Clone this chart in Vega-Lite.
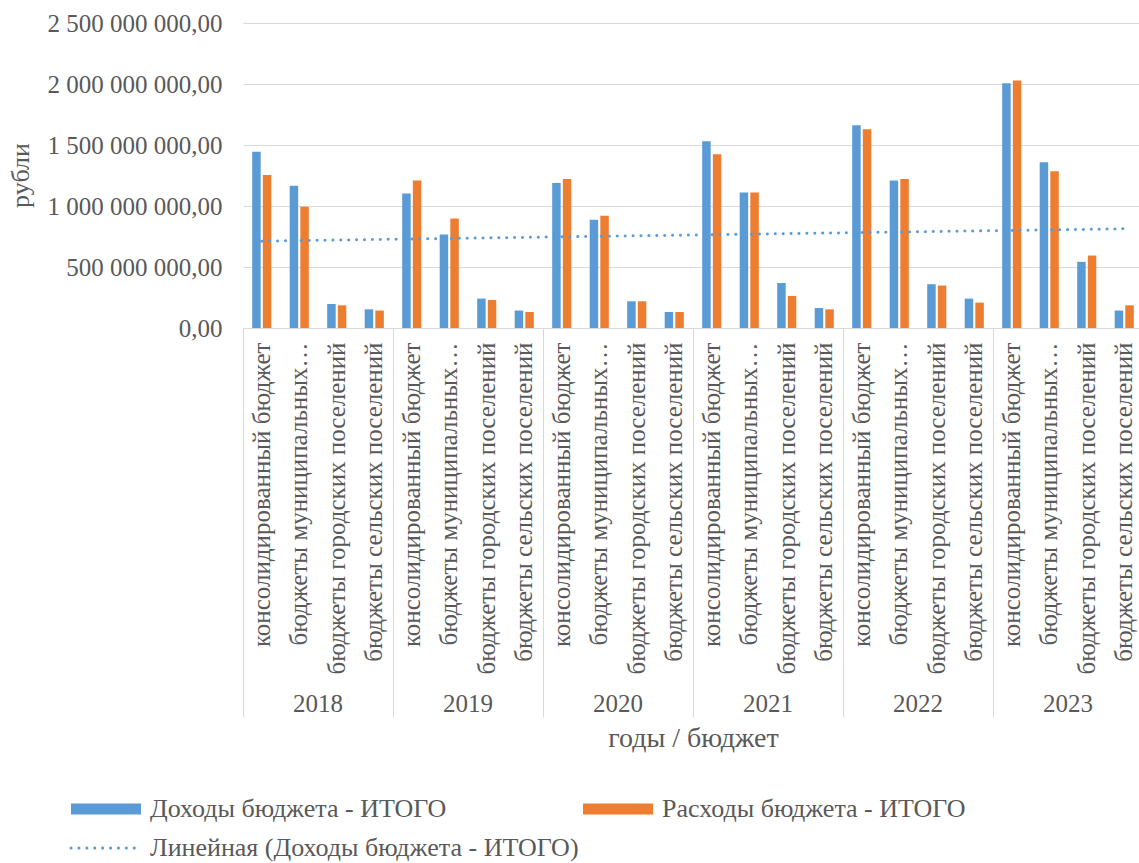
{
  "$schema": "https://vega.github.io/schema/vega-lite/v6.json",
  "width": 900,
  "height": 305,
  "autosize": {"type": "none"},
  "padding": {"left": 243, "top": 23, "right": 0, "bottom": 535},
  "background": "white",
  "config": {
    "locale": {"number": {"decimal": ",", "thousands": "\u00a0", "grouping": [3], "currency": ["", ""]}},
    "font": "Liberation Serif, Times New Roman, DejaVu Serif, serif",
    "view": {"stroke": null},
    "style": {
      "guide-label": {"font": "Liberation Serif, Times New Roman, DejaVu Serif, serif", "fill": "#595959"},
      "guide-title": {"font": "Liberation Serif, Times New Roman, DejaVu Serif, serif", "fill": "#595959"}
    },
    "axis": {
      "labelFont": "Liberation Serif, Times New Roman, DejaVu Serif, serif",
      "titleFont": "Liberation Serif, Times New Roman, DejaVu Serif, serif",
      "labelColor": "#595959",
      "titleColor": "#595959",
      "titleFontWeight": "normal",
      "labelFontSize": 25,
      "titleFontSize": 26
    },
    "legend": {"labelFont": "Liberation Serif, Times New Roman, DejaVu Serif, serif", "labelColor": "#595959"}
  },
  "datasets": {
    "bars": [
      {"year": "2018", "key": "2018|консолидированный бюджет", "series": "Доходы бюджета - ИТОГО", "value": 1445000000},
      {"year": "2018", "key": "2018|консолидированный бюджет", "series": "Расходы бюджета - ИТОГО", "value": 1254000000},
      {"year": "2018", "key": "2018|бюджеты муниципальных…", "series": "Доходы бюджета - ИТОГО", "value": 1166000000},
      {"year": "2018", "key": "2018|бюджеты муниципальных…", "series": "Расходы бюджета - ИТОГО", "value": 993000000},
      {"year": "2018", "key": "2018|бюджеты городских поселений", "series": "Доходы бюджета - ИТОГО", "value": 197000000},
      {"year": "2018", "key": "2018|бюджеты городских поселений", "series": "Расходы бюджета - ИТОГО", "value": 186000000},
      {"year": "2018", "key": "2018|бюджеты сельских поселений", "series": "Доходы бюджета - ИТОГО", "value": 153000000},
      {"year": "2018", "key": "2018|бюджеты сельских поселений", "series": "Расходы бюджета - ИТОГО", "value": 143000000},
      {"year": "2019", "key": "2019|консолидированный бюджет", "series": "Доходы бюджета - ИТОГО", "value": 1103000000},
      {"year": "2019", "key": "2019|консолидированный бюджет", "series": "Расходы бюджета - ИТОГО", "value": 1210000000},
      {"year": "2019", "key": "2019|бюджеты муниципальных…", "series": "Доходы бюджета - ИТОГО", "value": 767000000},
      {"year": "2019", "key": "2019|бюджеты муниципальных…", "series": "Расходы бюджета - ИТОГО", "value": 898000000},
      {"year": "2019", "key": "2019|бюджеты городских поселений", "series": "Доходы бюджета - ИТОГО", "value": 241000000},
      {"year": "2019", "key": "2019|бюджеты городских поселений", "series": "Расходы бюджета - ИТОГО", "value": 230000000},
      {"year": "2019", "key": "2019|бюджеты сельских поселений", "series": "Доходы бюджета - ИТОГО", "value": 143000000},
      {"year": "2019", "key": "2019|бюджеты сельских поселений", "series": "Расходы бюджета - ИТОГО", "value": 131000000},
      {"year": "2020", "key": "2020|консолидированный бюджет", "series": "Доходы бюджета - ИТОГО", "value": 1188000000},
      {"year": "2020", "key": "2020|консолидированный бюджет", "series": "Расходы бюджета - ИТОГО", "value": 1221000000},
      {"year": "2020", "key": "2020|бюджеты муниципальных…", "series": "Доходы бюджета - ИТОГО", "value": 887000000},
      {"year": "2020", "key": "2020|бюджеты муниципальных…", "series": "Расходы бюджета - ИТОГО", "value": 920000000},
      {"year": "2020", "key": "2020|бюджеты городских поселений", "series": "Доходы бюджета - ИТОГО", "value": 219000000},
      {"year": "2020", "key": "2020|бюджеты городских поселений", "series": "Расходы бюджета - ИТОГО", "value": 219000000},
      {"year": "2020", "key": "2020|бюджеты сельских поселений", "series": "Доходы бюджета - ИТОГО", "value": 131000000},
      {"year": "2020", "key": "2020|бюджеты сельских поселений", "series": "Расходы бюджета - ИТОГО", "value": 131000000},
      {"year": "2021", "key": "2021|консолидированный бюджет", "series": "Доходы бюджета - ИТОГО", "value": 1530000000},
      {"year": "2021", "key": "2021|консолидированный бюджет", "series": "Расходы бюджета - ИТОГО", "value": 1424000000},
      {"year": "2021", "key": "2021|бюджеты муниципальных…", "series": "Доходы бюджета - ИТОГО", "value": 1111000000},
      {"year": "2021", "key": "2021|бюджеты муниципальных…", "series": "Расходы бюджета - ИТОГО", "value": 1111000000},
      {"year": "2021", "key": "2021|бюджеты городских поселений", "series": "Доходы бюджета - ИТОГО", "value": 369000000},
      {"year": "2021", "key": "2021|бюджеты городских поселений", "series": "Расходы бюджета - ИТОГО", "value": 263000000},
      {"year": "2021", "key": "2021|бюджеты сельских поселений", "series": "Доходы бюджета - ИТОГО", "value": 164000000},
      {"year": "2021", "key": "2021|бюджеты сельских поселений", "series": "Расходы бюджета - ИТОГО", "value": 153000000},
      {"year": "2022", "key": "2022|консолидированный бюджет", "series": "Доходы бюджета - ИТОГО", "value": 1662000000},
      {"year": "2022", "key": "2022|консолидированный бюджет", "series": "Расходы бюджета - ИТОГО", "value": 1629000000},
      {"year": "2022", "key": "2022|бюджеты муниципальных…", "series": "Доходы бюджета - ИТОГО", "value": 1210000000},
      {"year": "2022", "key": "2022|бюджеты муниципальных…", "series": "Расходы бюджета - ИТОГО", "value": 1221000000},
      {"year": "2022", "key": "2022|бюджеты городских поселений", "series": "Доходы бюджета - ИТОГО", "value": 359000000},
      {"year": "2022", "key": "2022|бюджеты городских поселений", "series": "Расходы бюджета - ИТОГО", "value": 348000000},
      {"year": "2022", "key": "2022|бюджеты сельских поселений", "series": "Доходы бюджета - ИТОГО", "value": 241000000},
      {"year": "2022", "key": "2022|бюджеты сельских поселений", "series": "Расходы бюджета - ИТОГО", "value": 208000000},
      {"year": "2023", "key": "2023|консолидированный бюджет", "series": "Доходы бюджета - ИТОГО", "value": 2007000000},
      {"year": "2023", "key": "2023|консолидированный бюджет", "series": "Расходы бюджета - ИТОГО", "value": 2028000000},
      {"year": "2023", "key": "2023|бюджеты муниципальных…", "series": "Доходы бюджета - ИТОГО", "value": 1358000000},
      {"year": "2023", "key": "2023|бюджеты муниципальных…", "series": "Расходы бюджета - ИТОГО", "value": 1284000000},
      {"year": "2023", "key": "2023|бюджеты городских поселений", "series": "Доходы бюджета - ИТОГО", "value": 542000000},
      {"year": "2023", "key": "2023|бюджеты городских поселений", "series": "Расходы бюджета - ИТОГО", "value": 594000000},
      {"year": "2023", "key": "2023|бюджеты сельских поселений", "series": "Доходы бюджета - ИТОГО", "value": 143000000},
      {"year": "2023", "key": "2023|бюджеты сельских поселений", "series": "Расходы бюджета - ИТОГО", "value": 186000000}
    ],
    "trend": [
      {"key": "2018|консолидированный бюджет", "series": "Линейная (Доходы бюджета - ИТОГО)", "value": 712000000},
      {"key": "2023|бюджеты сельских поселений", "series": "Линейная (Доходы бюджета - ИТОГО)", "value": 813000000}
    ]
  },
  "layer": [
    {
      "encoding": {
        "x": {
          "field": "key",
          "type": "nominal",
          "sort": null,
          "scale": {
            "domain": [
              "2018|консолидированный бюджет", "2018|бюджеты муниципальных…", "2018|бюджеты городских поселений", "2018|бюджеты сельских поселений",
              "2019|консолидированный бюджет", "2019|бюджеты муниципальных…", "2019|бюджеты городских поселений", "2019|бюджеты сельских поселений",
              "2020|консолидированный бюджет", "2020|бюджеты муниципальных…", "2020|бюджеты городских поселений", "2020|бюджеты сельских поселений",
              "2021|консолидированный бюджет", "2021|бюджеты муниципальных…", "2021|бюджеты городских поселений", "2021|бюджеты сельских поселений",
              "2022|консолидированный бюджет", "2022|бюджеты муниципальных…", "2022|бюджеты городских поселений", "2022|бюджеты сельских поселений",
              "2023|консолидированный бюджет", "2023|бюджеты муниципальных…", "2023|бюджеты городских поселений", "2023|бюджеты сельских поселений"
            ],
            "paddingInner": 0.49,
            "paddingOuter": 0.245
          },
          "axis": {
            "orient": "bottom",
            "title": null,
            "labelExpr": "split(datum.value, '|')[1]",
            "labelAngle": -90,
            "labelAlign": "right",
            "labelBaseline": "middle",
            "labelPadding": 14,
            "labelLimit": 0,
            "labelFont": "Liberation Serif, Times New Roman, DejaVu Serif, serif",
            "labelColor": "#595959",
            "labelFontSize": 25,
            "ticks": false,
            "domain": true,
            "domainColor": "#d9d9d9",
            "domainWidth": 1,
            "grid": false
          }
        },
        "y": {
          "field": "value",
          "type": "quantitative",
          "scale": {"domain": [0, 2500000000], "nice": false},
          "axis": {
            "title": "рубли",
            "format": ",.2f",
            "values": [0, 500000000, 1000000000, 1500000000, 2000000000, 2500000000],
            "grid": true,
            "gridColor": "#d9d9d9",
            "gridWidth": 1,
            "domain": false,
            "ticks": false,
            "labelPadding": 21,
            "labelFont": "Liberation Serif, Times New Roman, DejaVu Serif, serif",
            "labelColor": "#595959",
            "labelFontSize": 25,
            "titleFont": "Liberation Serif, Times New Roman, DejaVu Serif, serif",
            "titleColor": "#595959",
            "titleFontWeight": "normal",
            "titleAngle": -90,
            "titleX": -215,
            "titleY": 152,
            "titleAlign": "center",
            "titleBaseline": "alphabetic",
            "titleFontSize": 26
          }
        },
        "color": {
          "field": "series",
          "type": "nominal",
          "scale": {
            "domain": ["Доходы бюджета - ИТОГО", "Расходы бюджета - ИТОГО", "Линейная (Доходы бюджета - ИТОГО)"],
            "range": ["#5B9BD5", "#ED7D31", "#5B9BD5"]
          },
          "legend": {
            "title": null,
            "orient": "none",
            "direction": "horizontal",
            "legendX": -150,
            "legendY": 773,
            "columns": 2,
            "columnPadding": 4,
            "rowPadding": 13,
            "padding": 0,
            "symbolType": "M-1,-0.16H1V0.16H-1Z",
            "symbolSize": 4900,
            "labelFontSize": 26,
            "labelFont": "Liberation Serif, Times New Roman, DejaVu Serif, serif",
            "labelColor": "#595959",
            "labelOffset": 31,
            "labelLimit": 0,
            "encode": {
              "symbols": {
                "update": {
                  "shape": {"signal": "datum.value === 'Линейная (Доходы бюджета - ИТОГО)' ? 'M-1,0H1' : 'M-1,-0.16H1V0.16H-1Z'"},
                  "size": {"value": 4900},
                  "fill": {"signal": "datum.value === 'Линейная (Доходы бюджета - ИТОГО)' ? 'transparent' : (datum.value === 'Доходы бюджета - ИТОГО' ? '#5B9BD5' : '#ED7D31')"},
                  "stroke": {"signal": "datum.value === 'Линейная (Доходы бюджета - ИТОГО)' ? '#5B9BD5' : 'transparent'"},
                  "strokeWidth": {"signal": "datum.value === 'Линейная (Доходы бюджета - ИТОГО)' ? 3 : 0"},
                  "strokeDash": {"signal": "datum.value === 'Линейная (Доходы бюджета - ИТОГО)' ? [0.1, 7.8] : [1, 0]"},
                  "strokeCap": {"value": "round"},
                  "opacity": {"value": 1}
                }
              }
            }
          }
        }
      },
      "layer": [
        {
          "data": {"name": "bars"},
          "mark": {"type": "bar"},
          "encoding": {
            "xOffset": {
              "field": "series",
              "type": "nominal",
              "sort": ["Доходы бюджета - ИТОГО", "Расходы бюджета - ИТОГО"],
              "scale": {"paddingInner": 0.2}
            }
          }
        },
        {
          "data": {"name": "trend"},
          "mark": {"type": "line", "strokeDash": [0.1, 7.8], "strokeCap": "round", "strokeWidth": 3},
          "encoding": {}
        }
      ]
    },
    {
      "data": {"name": "bars"},
      "mark": {"type": "bar", "opacity": 0},
      "encoding": {
        "x": {
          "field": "year",
          "type": "ordinal",
          "scale": {"type": "band", "paddingInner": 0, "paddingOuter": 0},
          "axis": {
            "orient": "bottom",
            "offset": 375,
            "ticks": false,
            "domain": false,
            "grid": false,
            "labelAngle": 0,
            "labelAlign": "center",
            "labelBaseline": "middle",
            "labelPadding": 0,
            "labelFont": "Liberation Serif, Times New Roman, DejaVu Serif, serif",
            "labelColor": "#595959",
            "labelFontSize": 25,
            "title": "годы / бюджет",
            "titleFont": "Liberation Serif, Times New Roman, DejaVu Serif, serif",
            "titleColor": "#595959",
            "titleFontWeight": "normal",
            "titleY": 35,
            "titleBaseline": "middle",
            "titleFontSize": 28
          }
        }
      }
    },
    {
      "data": {"name": "bars"},
      "mark": {"type": "bar", "opacity": 0},
      "encoding": {
        "x": {
          "field": "year",
          "type": "ordinal",
          "scale": {"type": "band", "paddingInner": 0, "paddingOuter": 0},
          "axis": {
            "orient": "bottom",
            "offset": 0,
            "ticks": true,
            "tickSize": 389,
            "tickColor": "#d9d9d9",
            "tickWidth": 1,
            "bandPosition": 0,
            "labels": false,
            "domain": false,
            "grid": false,
            "title": null
          }
        }
      }
    }
  ],
  "resolve": {"scale": {"x": "independent"}}
}
